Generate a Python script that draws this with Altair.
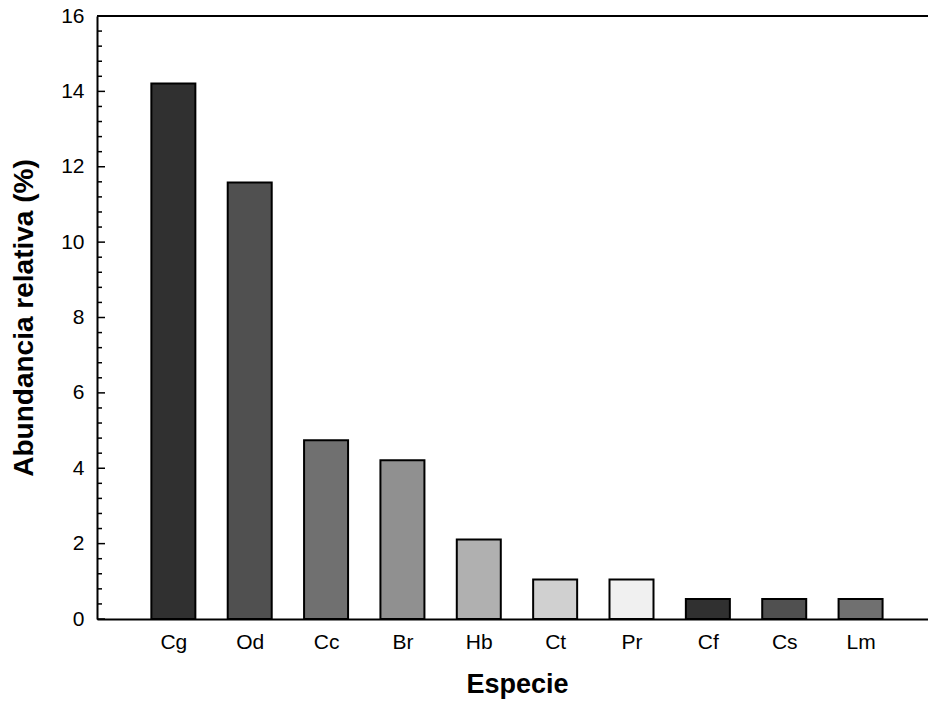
import altair as alt
import pandas as pd

species = ["Cg", "Od", "Cc", "Br", "Hb", "Ct", "Pr", "Cf", "Cs", "Lm"]
abundance = [14.21, 11.58, 4.74, 4.21, 2.11, 1.05, 1.05, 0.53, 0.53, 0.53]
fills = ["#303030", "#505050", "#707070", "#909090", "#b0b0b0",
         "#d0d0d0", "#f0f0f0", "#303030", "#505050", "#707070"]
y_major = [0, 2, 4, 6, 8, 10, 12, 14, 16]
y_minor = [v / 10 for v in range(0, 161, 4) if v % 20 != 0]

FONT = "Liberation Sans"
W, H = 831, 603

df = pd.DataFrame({"species": species, "abundance": abundance,
                   "pos": list(range(1, len(species) + 1))})

label_expr = "[" + ",".join(f"'{s}'" for s in species) + "][datum.value - 1]"

xscale = alt.Scale(domain=[0, 10.883], nice=False, zero=False, padding=0)
yscale = alt.Scale(domain=[0, 16], nice=False, padding=0)

xaxis = alt.Axis(values=list(range(1, 11)), labelExpr=label_expr,
                 ticks=False, grid=False, domainColor="black",
                 domainWidth=2, labelFont=FONT, labelFontSize=21,
                 labelColor="black", labelPadding=12,
                 title="Especie", titleFont=FONT, titleFontSize=27,
                 titleFontWeight="bold", titleColor="black",
                 titleX=420, titleY=65, titleBaseline="middle")
yaxis = alt.Axis(values=y_major, ticks=False, grid=False,
                 domainColor="black", domainWidth=2, labelFont=FONT,
                 labelFontSize=21, labelColor="black", labelPadding=13,
                 title="Abundancia relativa (%)", titleFont=FONT,
                 titleFontSize=28, titleFontWeight="bold",
                 titleColor="black", titleAngle=270,
                 titleX=-73, titleY=301.5, titleBaseline="middle",
                 titleAlign="center")

bars = alt.Chart(df).mark_bar(size=44, stroke="black", strokeWidth=2).encode(
    x=alt.X("pos:Q", scale=xscale, axis=xaxis),
    y=alt.Y("abundance:Q", scale=yscale, axis=yaxis),
    color=alt.Color("species:N", scale=alt.Scale(domain=species, range=fills),
                    legend=None),
)

major_df = pd.DataFrame({"v": y_major})
minor_df = pd.DataFrame({"v": y_minor})

major_ticks = alt.Chart(major_df).mark_rule(color="black", strokeWidth=1.5).encode(
    y=alt.Y("v:Q", scale=yscale, axis=yaxis),
    x=alt.value(0), x2=alt.value(8))
minor_ticks = alt.Chart(minor_df).mark_rule(color="black", strokeWidth=1.5).encode(
    y=alt.Y("v:Q", scale=yscale, axis=yaxis),
    x=alt.value(0), x2=alt.value(5))

top_line = alt.Chart(major_df).mark_rule(color="black", strokeWidth=2).encode(
    y=alt.datum(16, scale=yscale, axis=yaxis), x=alt.value(0), x2=alt.value(W))

chart = alt.layer(bars, major_ticks, minor_ticks, top_line).properties(
    width=W, height=H,
    autosize=alt.AutoSizeParams(type="none"),
    padding={"left": 97, "top": 16, "right": 0, "bottom": 87},
).configure_view(stroke=None).configure(background="white")

chart.save("out.html", embed_options={"renderer": "svg", "actions": False})
